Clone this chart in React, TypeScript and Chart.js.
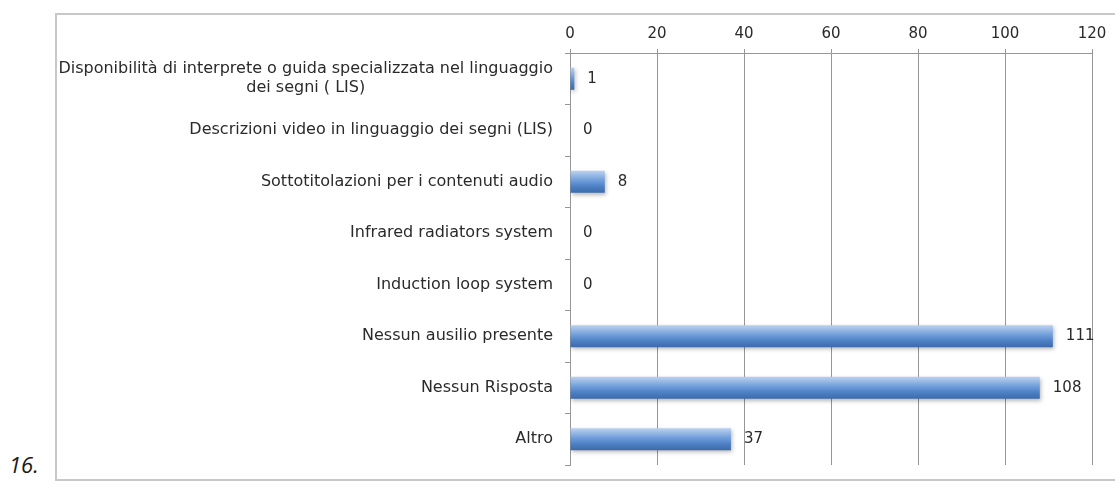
import React, { useEffect, useRef } from 'react';
import { Chart, registerables } from 'chart.js';

Chart.register(...registerables);

const categories: (string | string[])[] = [
  ['Disponibilità di interprete o guida specializzata nel linguaggio', 'dei segni ( LIS)'],
  'Descrizioni video in linguaggio dei segni (LIS)',
  'Sottotitolazioni per i contenuti audio',
  'Infrared radiators system',
  'Induction loop system',
  'Nessun ausilio presente',
  'Nessun Risposta',
  'Altro',
];
const values = [1, 0, 8, 0, 0, 111, 108, 37];
const xTicks = [0, 20, 40, 60, 80, 100, 120];

const FONT = '"DejaVu Sans", Verdana, sans-serif';
const CAT_SIZE = 16;
const LABEL_SIZE = 15;
const TEXT_COLOR = '#2a2a2a';
const GRID_COLOR = '#969696';

const barPlugin = {
  id: 'barDecor',
  beforeDatasetsDraw(chart: any) {
    const ctx = chart.ctx;
    const meta = chart.getDatasetMeta(0);
    meta.data.forEach((el: any) => {
      const h = el.height;
      const top = el.y - h / 2;
      const g = ctx.createLinearGradient(0, top, 0, top + h);
      g.addColorStop(0, '#bcd2ef');
      g.addColorStop(0.45, '#6e9dd9');
      g.addColorStop(0.7, '#4f81c6');
      g.addColorStop(1, '#3c6aa9');
      el.options = Object.assign({}, el.options, { backgroundColor: g });
    });
    ctx.save();
    ctx.shadowColor = 'rgba(0,0,0,0.28)';
    ctx.shadowBlur = 4;
    ctx.shadowOffsetY = 2;
    ctx.shadowOffsetX = 1;
  },
  afterDatasetsDraw(chart: any) {
    const ctx = chart.ctx;
    ctx.restore();
    const meta = chart.getDatasetMeta(0);
    ctx.save();
    ctx.font = `${LABEL_SIZE}px ${FONT}`;
    ctx.fillStyle = TEXT_COLOR;
    ctx.textAlign = 'left';
    ctx.textBaseline = 'middle';
    meta.data.forEach((el: any, i: number) => {
      ctx.fillText(String(values[i]), el.x + 13, el.y);
    });
    ctx.restore();
  },
  afterDraw(chart: any) {
    const ctx = chart.ctx;
    const yScale = chart.scales.y;
    ctx.save();
    ctx.font = `${CAT_SIZE}px ${FONT}`;
    ctx.fillStyle = TEXT_COLOR;
    ctx.textAlign = 'center';
    ctx.textBaseline = 'middle';
    const rightEdge = yScale.right - 17;
    const lineH = 19;
    categories.forEach((cat, i) => {
      const lines = Array.isArray(cat) ? cat : [cat];
      const widest = Math.max(...lines.map((l) => ctx.measureText(l).width));
      const cx = rightEdge - widest / 2;
      const cy = yScale.getPixelForValue(i);
      const startY = cy - ((lines.length - 1) * lineH) / 2;
      lines.forEach((l, j) => ctx.fillText(l, cx, startY + j * lineH));
    });
    ctx.restore();
  },
};

export default function App() {
  const ref = useRef<HTMLCanvasElement | null>(null);
  useEffect(() => {
    if (!ref.current) return;
    const chart = new Chart(ref.current, {
      type: 'bar',
      data: {
        labels: categories as any,
        datasets: [
          {
            data: values,
            backgroundColor: '#4f81bd',
            borderWidth: 0,
            barPercentage: 0.43,
            categoryPercentage: 1,
          },
        ],
      },
      options: {
        indexAxis: 'y',
        responsive: false,
        animation: false,
        events: [],
        layout: { padding: { left: 60, right: 23, top: 20, bottom: 19 } },
        plugins: { legend: { display: false }, tooltip: { enabled: false }, title: { display: false } },
        scales: {
          x: {
            type: 'linear',
            position: 'top',
            min: 0,
            max: 120,
            afterBuildTicks: (s: any) => {
              s.ticks = xTicks.map((v) => ({ value: v }));
            },
            afterFit: (s: any) => {
              s.height = 33;
            },
            ticks: {
              font: { family: FONT, size: LABEL_SIZE },
              color: TEXT_COLOR,
              padding: 6,
              maxRotation: 0,
            },
            grid: { color: GRID_COLOR, tickLength: 4, lineWidth: 1 },
            border: { color: GRID_COLOR },
          },
          y: {
            type: 'category',
            position: 'left',
            afterFit: (s: any) => {
              s.width = 510;
            },
            ticks: { display: false },
            grid: {
              drawOnChartArea: false,
              drawTicks: true,
              tickLength: 5,
              color: GRID_COLOR,
              offset: true,
            },
            border: { color: GRID_COLOR },
          },
        },
      },
      plugins: [barPlugin],
    });
    return () => chart.destroy();
  }, []);

  return (
    <div
      style={{
        position: 'fixed',
        left: 0,
        top: 0,
        width: 1115,
        height: 484,
        background: '#fff',
        overflow: 'hidden',
      }}
    >
      <div
        style={{
          position: 'absolute',
          left: 55,
          top: 13,
          width: 1100,
          height: 464,
          border: '2px solid #c8c8c8',
          background: '#fff',
        }}
      />
      <div
        style={{
          position: 'absolute',
          left: 9,
          top: 450,
          fontFamily: '"Open Sans", sans-serif',
          fontStyle: 'italic',
          fontSize: 22,
          color: '#1a1a1a',
          lineHeight: '28px',
        }}
      >
        16.
      </div>
      <canvas ref={ref} width={1115} height={484} style={{ position: 'absolute', left: 0, top: 0 }} />
    </div>
  );
}
